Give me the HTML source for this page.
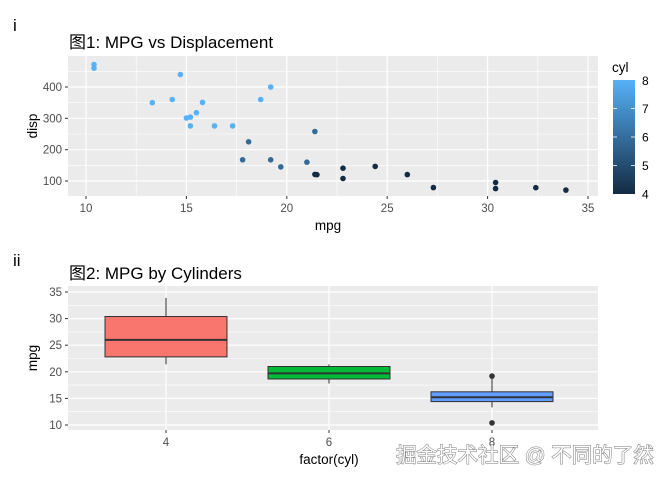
<!DOCTYPE html>
<html><head><meta charset="utf-8"><style>
body{margin:0;background:#fff;}
svg{display:block;font-family:"Liberation Sans","Noto Sans CJK SC",sans-serif;}
.t{fill:#4d4d4d;font-size:11.5px;}
</style></head><body>
<svg width="672" height="480" viewBox="0 0 672 480">
<defs><linearGradient id="g" x1="0" y1="1" x2="0" y2="0"><stop offset="0" stop-color="#132B43"/><stop offset="1" stop-color="#56B1F7"/></linearGradient></defs>
<text x="13" y="31" font-size="17" fill="#000">i</text>
<text x="69" y="48" font-size="17" fill="#000">图1: MPG vs Displacement</text>
<rect x="68" y="56" width="530" height="140" fill="#ebebeb"/>
<g stroke="#fff" stroke-width="0.6">
<line x1="136.2" y1="56" x2="136.2" y2="196"/><line x1="236.6" y1="56" x2="236.6" y2="196"/><line x1="337" y1="56" x2="337" y2="196"/><line x1="437.4" y1="56" x2="437.4" y2="196"/><line x1="537.8" y1="56" x2="537.8" y2="196"/>
<line x1="68" y1="165.3" x2="598" y2="165.3"/><line x1="68" y1="134" x2="598" y2="134"/><line x1="68" y1="102.7" x2="598" y2="102.7"/><line x1="68" y1="71.3" x2="598" y2="71.3"/>
</g>
<g stroke="#fff" stroke-width="1.2">
<line x1="86" y1="56" x2="86" y2="196"/><line x1="186.4" y1="56" x2="186.4" y2="196"/><line x1="286.8" y1="56" x2="286.8" y2="196"/><line x1="387.2" y1="56" x2="387.2" y2="196"/><line x1="487.6" y1="56" x2="487.6" y2="196"/><line x1="588" y1="56" x2="588" y2="196"/>
<line x1="68" y1="181" x2="598" y2="181"/><line x1="68" y1="149.7" x2="598" y2="149.7"/><line x1="68" y1="118.3" x2="598" y2="118.3"/><line x1="68" y1="87" x2="598" y2="87"/>
</g>
<g stroke="#333" stroke-width="1">
<line x1="86" y1="196" x2="86" y2="199"/><line x1="186.4" y1="196" x2="186.4" y2="199"/><line x1="286.8" y1="196" x2="286.8" y2="199"/><line x1="387.2" y1="196" x2="387.2" y2="199"/><line x1="487.6" y1="196" x2="487.6" y2="199"/><line x1="588" y1="196" x2="588" y2="199"/>
<line x1="65" y1="181" x2="68" y2="181"/><line x1="65" y1="149.7" x2="68" y2="149.7"/><line x1="65" y1="118.3" x2="68" y2="118.3"/><line x1="65" y1="87" x2="68" y2="87"/>
</g>
<g class="t" text-anchor="middle"><text x="86" y="212">10</text><text x="186.4" y="212">15</text><text x="286.8" y="212">20</text><text x="387.2" y="212">25</text><text x="487.6" y="212">30</text><text x="588" y="212">35</text></g>
<g class="t" text-anchor="end"><text x="62" y="185">100</text><text x="62" y="153.7">200</text><text x="62" y="122.3">300</text><text x="62" y="91">400</text></g>
<text x="328" y="230" font-size="13.5" text-anchor="middle">mpg</text>
<text transform="translate(37,126) rotate(-90)" font-size="13.5" text-anchor="middle">disp</text>
<g>
<circle cx="306.9" cy="162.2" r="2.8" fill="#336A98"/>
<circle cx="343" cy="178.5" r="2.8" fill="#132B43"/><circle cx="314.9" cy="131.5" r="2.8" fill="#336A98"/>
<circle cx="260.7" cy="99.5" r="2.8" fill="#56B1F7"/><circle cx="248.6" cy="141.8" r="2.8" fill="#336A98"/>
<circle cx="172.3" cy="99.5" r="2.8" fill="#56B1F7"/><circle cx="375.2" cy="166.4" r="2.8" fill="#132B43"/>
<circle cx="343" cy="168.2" r="2.8" fill="#132B43"/><circle cx="270.7" cy="159.8" r="2.8" fill="#336A98"/>
<circle cx="242.6" cy="159.8" r="2.8" fill="#336A98"/><circle cx="214.5" cy="125.9" r="2.8" fill="#56B1F7"/>
<circle cx="232.6" cy="125.9" r="2.8" fill="#56B1F7"/><circle cx="190.4" cy="125.9" r="2.8" fill="#56B1F7"/>
<circle cx="94" cy="64.5" r="2.8" fill="#56B1F7"/><circle cx="94" cy="68.2" r="2.8" fill="#56B1F7"/>
<circle cx="180.4" cy="74.5" r="2.8" fill="#56B1F7"/><circle cx="535.8" cy="187.7" r="2.8" fill="#132B43"/>
<circle cx="495.6" cy="188.6" r="2.8" fill="#132B43"/><circle cx="565.9" cy="190.1" r="2.8" fill="#132B43"/>
<circle cx="316.9" cy="174.7" r="2.8" fill="#132B43"/><circle cx="196.4" cy="112.7" r="2.8" fill="#56B1F7"/>
<circle cx="190.4" cy="117.1" r="2.8" fill="#56B1F7"/><circle cx="152.3" cy="102.7" r="2.8" fill="#56B1F7"/>
<circle cx="270.7" cy="87" r="2.8" fill="#56B1F7"/><circle cx="433.4" cy="187.6" r="2.8" fill="#132B43"/>
<circle cx="407.3" cy="174.6" r="2.8" fill="#132B43"/><circle cx="495.6" cy="182.5" r="2.8" fill="#132B43"/>
<circle cx="202.5" cy="102.4" r="2.8" fill="#56B1F7"/><circle cx="280.8" cy="166.9" r="2.8" fill="#336A98"/>
<circle cx="186.4" cy="118" r="2.8" fill="#56B1F7"/><circle cx="314.9" cy="174.4" r="2.8" fill="#132B43"/>
</g>
<text x="612" y="72" font-size="13.5">cyl</text>
<rect x="613" y="80" width="22" height="114" fill="url(#g)"/>
<g stroke="#fff" stroke-width="0.8">
<line x1="613" y1="108.5" x2="617" y2="108.5"/><line x1="631" y1="108.5" x2="635" y2="108.5"/>
<line x1="613" y1="137" x2="617" y2="137"/><line x1="631" y1="137" x2="635" y2="137"/>
<line x1="613" y1="165.5" x2="617" y2="165.5"/><line x1="631" y1="165.5" x2="635" y2="165.5"/>
</g>
<g font-size="12" fill="#000"><text x="642" y="85">8</text><text x="642" y="113">7</text><text x="642" y="141.5">6</text><text x="642" y="170">5</text><text x="642" y="198.5">4</text></g>

<text x="13" y="266" font-size="17" fill="#000">ii</text>
<text x="69" y="279" font-size="17" fill="#000">图2: MPG by Cylinders</text>
<rect x="68" y="286" width="530" height="144" fill="#ebebeb"/>
<g stroke="#fff" stroke-width="0.6">
<line x1="68" y1="411.7" x2="598" y2="411.7"/><line x1="68" y1="385.1" x2="598" y2="385.1"/><line x1="68" y1="358.5" x2="598" y2="358.5"/><line x1="68" y1="331.9" x2="598" y2="331.9"/><line x1="68" y1="305.3" x2="598" y2="305.3"/>
</g>
<g stroke="#fff" stroke-width="1.2">
<line x1="68" y1="425" x2="598" y2="425"/><line x1="68" y1="398.4" x2="598" y2="398.4"/><line x1="68" y1="371.8" x2="598" y2="371.8"/><line x1="68" y1="345.2" x2="598" y2="345.2"/><line x1="68" y1="318.6" x2="598" y2="318.6"/><line x1="68" y1="292" x2="598" y2="292"/>
<line x1="166" y1="286" x2="166" y2="430"/><line x1="329" y1="286" x2="329" y2="430"/><line x1="492" y1="286" x2="492" y2="430"/>
</g>
<g stroke="#333" stroke-width="1">
<line x1="65" y1="425" x2="68" y2="425"/><line x1="65" y1="398.4" x2="68" y2="398.4"/><line x1="65" y1="371.8" x2="68" y2="371.8"/><line x1="65" y1="345.2" x2="68" y2="345.2"/><line x1="65" y1="318.6" x2="68" y2="318.6"/><line x1="65" y1="292" x2="68" y2="292"/>
<line x1="166" y1="430" x2="166" y2="433"/><line x1="329" y1="430" x2="329" y2="433"/><line x1="492" y1="430" x2="492" y2="433"/>
</g>
<g class="t" text-anchor="end"><text x="62" y="429">10</text><text x="62" y="402.4">15</text><text x="62" y="375.8">20</text><text x="62" y="349.2">25</text><text x="62" y="322.6">30</text><text x="62" y="296">35</text></g>
<g class="t" text-anchor="middle"><text x="166" y="446">4</text><text x="329" y="446">6</text><text x="492" y="446">8</text></g>
<text x="329" y="464" font-size="13.5" text-anchor="middle">factor(cyl)</text>
<text transform="translate(37,358) rotate(-90)" font-size="13.5" text-anchor="middle">mpg</text>
<g stroke="#333" stroke-width="1">
<line x1="166" y1="297.9" x2="166" y2="364.4"/>
<rect x="105" y="316.5" width="122" height="40.4" fill="#F8766D"/>
<line x1="105" y1="339.9" x2="227" y2="339.9" stroke-width="2"/>
<line x1="329" y1="364.4" x2="329" y2="383.5"/>
<rect x="268" y="366.5" width="122" height="12.5" fill="#00BA38"/>
<line x1="268" y1="373.4" x2="390" y2="373.4" stroke-width="2"/>
<line x1="492" y1="378.7" x2="492" y2="407.4"/>
<rect x="431" y="391.8" width="122" height="9.8" fill="#619CFF"/>
<line x1="431" y1="397.3" x2="553" y2="397.3" stroke-width="2"/>
</g>
<circle cx="492" cy="422.9" r="2.8" fill="#333"/><circle cx="492" cy="376.1" r="2.8" fill="#333"/>
<text x="396" y="462" font-size="20.5" fill="#fff" stroke="#777" stroke-width="1" paint-order="stroke">掘金技术社区 @ 不同的了然</text>
</svg>
</body></html>
